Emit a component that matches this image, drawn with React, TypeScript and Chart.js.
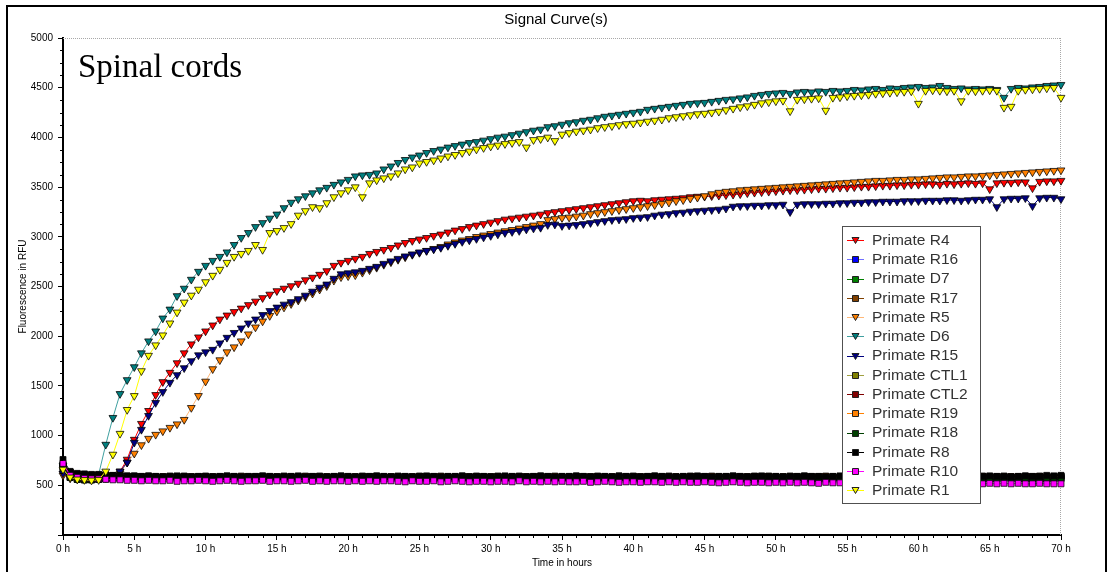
import React, { useEffect, useRef } from 'react';
import { Chart, registerables } from 'chart.js';

Chart.register(...registerables);

// ---------- DATA ----------
const hours = [
  0, 0.5, 1, 1.5, 2, 2.5, 3, 3.5, 4, 4.5,
  5, 5.5, 6, 6.5, 7, 7.5, 8, 8.5, 9, 9.5,
  10, 10.5, 11, 11.5, 12, 12.5, 13, 13.5, 14, 14.5,
  15, 15.5, 16, 16.5, 17, 17.5, 18, 18.5, 19, 19.5,
  20, 20.5, 21, 21.5, 22, 22.5, 23, 23.5, 24, 24.5,
  25, 25.5, 26, 26.5, 27, 27.5, 28, 28.5, 29, 29.5,
  30, 30.5, 31, 31.5, 32, 32.5, 33, 33.5, 34, 34.5,
  35, 35.5, 36, 36.5, 37, 37.5, 38, 38.5, 39, 39.5,
  40, 40.5, 41, 41.5, 42, 42.5, 43, 43.5, 44, 44.5,
  45, 45.5, 46, 46.5, 47, 47.5, 48, 48.5, 49, 49.5,
  50, 50.5, 51, 51.5, 52, 52.5, 53, 53.5, 54, 54.5,
  55, 55.5, 56, 56.5, 57, 57.5, 58, 58.5, 59, 59.5,
  60, 60.5, 61, 61.5, 62, 62.5, 63, 63.5, 64, 64.5,
  65, 65.5, 66, 66.5, 67, 67.5, 68, 68.5, 69, 69.5,
  70,
];

const primateR4 = [
  620, 600, 590, 590, 585, 585, 590, 600, 640, 760,
  960, 1120, 1250, 1410, 1540, 1634, 1730, 1830, 1920, 1990,
  2050, 2110, 2170, 2210, 2245, 2280, 2315, 2350, 2385, 2420,
  2455, 2480, 2505, 2530, 2565, 2590, 2620, 2656, 2710, 2740,
  2760, 2780, 2800, 2830, 2850, 2870, 2890, 2915, 2940, 2960,
  2975, 2990, 3010, 3025, 3045, 3065, 3080, 3100, 3115, 3130,
  3145, 3160, 3175, 3185, 3195, 3205, 3215, 3225, 3240, 3250,
  3260, 3270, 3280, 3290, 3300, 3310, 3320, 3330, 3340, 3350,
  3360, 3365, 3360, 3370, 3375, 3380, 3385, 3390, 3400, 3405,
  3405, 3410, 3415, 3420, 3425, 3430, 3440, 3445, 3450, 3455,
  3460, 3465, 3470, 3470, 3475, 3480, 3485, 3485, 3490, 3495,
  3495, 3500, 3505, 3505, 3510, 3515, 3515, 3520, 3520, 3525,
  3525, 3530, 3530, 3525, 3535, 3530, 3535, 3540, 3535, 3540,
  3480, 3540, 3545, 3545, 3550, 3550, 3490, 3555, 3560, 3560,
  3565,
];

const primateR5 = [
  600, 570, 565, 565, 565, 570, 575, 585, 620, 730,
  820, 905, 970, 1010, 1045, 1080, 1115, 1160, 1280, 1400,
  1545, 1670, 1760, 1840, 1890, 1950, 2020, 2090, 2150, 2205,
  2250, 2290, 2325, 2360, 2395, 2430, 2470, 2505, 2560, 2595,
  2605, 2615, 2640, 2665, 2690, 2720, 2745, 2770, 2795, 2820,
  2840, 2860, 2880, 2900, 2925, 2945, 2965, 2980, 3000, 3015,
  3030, 3045, 3058, 3070, 3085, 3100, 3115, 3130, 3170, 3180,
  3190, 3195, 3205, 3215, 3230, 3240, 3250, 3260, 3270, 3280,
  3290, 3300, 3310, 3320, 3335, 3345, 3360, 3370, 3385, 3395,
  3410, 3430, 3445, 3455, 3460, 3470, 3475, 3480, 3485, 3490,
  3495, 3500, 3505, 3510, 3515, 3520, 3525, 3530, 3535, 3540,
  3545, 3550, 3555, 3560, 3565, 3565, 3570, 3575, 3575, 3580,
  3580, 3585, 3590, 3595, 3600, 3600, 3605, 3610, 3610, 3615,
  3620, 3625, 3630, 3635, 3640, 3645, 3650, 3655, 3660, 3665,
  3670,
];

const primateD6 = [
  700, 620, 600, 590, 590, 610, 910, 1180, 1420, 1560,
  1690, 1830, 1950, 2050, 2180, 2270, 2405, 2480, 2570, 2650,
  2710, 2760, 2800, 2845, 2920, 2990, 3040, 3100, 3140, 3185,
  3226, 3290, 3345, 3380, 3410, 3440, 3470, 3495, 3525, 3550,
  3575, 3610, 3620, 3625, 3640, 3680, 3710, 3745, 3775, 3800,
  3820, 3845, 3865, 3880, 3900, 3915, 3930, 3945, 3955, 3970,
  3985, 4000, 4010, 4025, 4040, 4055, 4070, 4080, 4105, 4115,
  4130, 4145, 4155, 4170, 4180, 4195, 4210, 4220, 4230, 4240,
  4250, 4260, 4280, 4290, 4300, 4310, 4320, 4330, 4340, 4345,
  4350, 4360, 4370, 4380, 4385, 4395, 4405, 4420, 4430, 4440,
  4445, 4450, 4440, 4455, 4460, 4455, 4465, 4460, 4470, 4465,
  4470, 4480, 4475, 4485, 4490, 4480, 4495, 4490, 4500, 4505,
  4510, 4500, 4505, 4520, 4500, 4490, 4495, 4485, 4490, 4485,
  4490, 4480, 4400, 4490, 4500, 4495, 4505, 4510, 4520, 4525,
  4530,
];

const primateR15 = [
  620, 600, 590, 590, 585, 585, 590, 600, 640, 730,
  930, 1060, 1200, 1330, 1440, 1533, 1610, 1680, 1750, 1810,
  1840, 1865, 1930, 1986, 2035, 2080, 2130, 2170, 2215, 2255,
  2290, 2320, 2345, 2375, 2410, 2450, 2490, 2522, 2580, 2625,
  2635, 2645, 2660, 2680, 2700, 2730, 2755, 2780, 2805, 2825,
  2845, 2860, 2875, 2890, 2910, 2930, 2950, 2965, 2980, 2995,
  3010, 3025, 3040, 3050, 3060, 3075, 3085, 3092, 3120, 3125,
  3110, 3115, 3120, 3130, 3140, 3150, 3160, 3170, 3175, 3180,
  3190, 3195, 3200, 3215, 3225, 3230, 3240, 3245, 3255, 3260,
  3265, 3270, 3275, 3285, 3305, 3310, 3310, 3315, 3315, 3320,
  3320, 3325, 3250, 3325, 3330, 3330, 3330, 3335, 3335, 3340,
  3340, 3345, 3345, 3350, 3350, 3355, 3355, 3355, 3360, 3360,
  3360, 3365, 3365, 3365, 3370, 3370, 3365, 3370, 3375, 3375,
  3380, 3300, 3380, 3385, 3385, 3390, 3310, 3390, 3395, 3395,
  3380,
];

const primateR1 = [
  660, 580, 560, 555, 550, 555, 640, 810, 1020, 1260,
  1400, 1650, 1805, 1910, 2010, 2130, 2240, 2340, 2410, 2470,
  2545, 2610, 2670, 2740, 2800, 2830, 2860, 2920, 2870, 3040,
  3060, 3090, 3130, 3215, 3260, 3300, 3290, 3340, 3400, 3440,
  3470, 3500, 3400, 3540, 3570, 3590, 3610, 3640, 3680, 3700,
  3740, 3755, 3770, 3790, 3810, 3825, 3845, 3860, 3880, 3895,
  3910, 3920, 3935, 3945, 3955, 3900, 3975, 3985, 4000, 3965,
  4030, 4045, 4060, 4070, 4080, 4095, 4105, 4115, 4125, 4135,
  4140, 4150, 4160, 4170, 4180, 4195, 4205, 4215, 4225, 4235,
  4240, 4250, 4260, 4275, 4290, 4305, 4315, 4330, 4345, 4355,
  4365, 4370, 4265, 4380, 4385, 4390, 4395, 4270, 4400, 4405,
  4415, 4420, 4425, 4430, 4440, 4445, 4450, 4455, 4460, 4465,
  4340, 4470, 4475, 4470, 4465, 4470, 4365, 4470, 4465, 4470,
  4475, 4470, 4300, 4310, 4470, 4480, 4485, 4490, 4495, 4500,
  4400,
];

const primateR8 = [
  760, 640, 620, 615, 610, 610, 605, 600, 600, 595,
  595, 590, 595, 590, 585, 590, 595, 590, 585, 590,
  590, 585, 590, 595, 590, 585, 590, 590, 595, 590,
  585, 590, 590, 595, 585, 590, 590, 585, 590, 595,
  590, 585, 590, 590, 595, 590, 585, 590, 590, 585,
  590, 595, 590, 585, 590, 590, 595, 585, 590, 590,
  585, 590, 595, 590, 590, 585, 590, 595, 590, 585,
  590, 590, 595, 590, 585, 590, 590, 585, 595, 590,
  590, 585, 590, 595, 590, 590, 585, 590, 590, 595,
  590, 585, 590, 590, 595, 590, 585, 590, 595, 590,
  590, 585, 590, 590, 595, 590, 590, 585, 590, 595,
  590, 590, 585, 590, 595, 590, 590, 585, 590, 590,
  595, 590, 585, 590, 590, 595, 590, 590, 585, 590,
  595, 590, 590, 585, 590, 595, 590, 590, 600, 595,
  600,
];

const primateR10 = [
  720, 600, 580, 570, 565, 565, 560, 555, 555, 550,
  550, 545, 550, 545, 545, 550, 540, 545, 545, 550,
  545, 540, 545, 550, 545, 540, 545, 545, 550, 540,
  545, 545, 540, 545, 550, 540, 545, 540, 545, 545,
  540, 545, 540, 545, 540, 545, 545, 540, 535, 545,
  540, 540, 545, 535, 540, 545, 540, 535, 540, 540,
  535, 540, 540, 535, 545, 535, 540, 535, 540, 535,
  540, 535, 535, 540, 530, 535, 540, 535, 530, 535,
  535, 530, 535, 535, 530, 535, 530, 535, 530, 530,
  535, 530, 525, 530, 535, 530, 525, 530, 530, 525,
  530, 525, 530, 525, 530, 525, 520, 530, 525, 525,
  520, 525, 530, 520, 525, 520, 525, 520, 525, 520,
  520, 525, 515, 520, 525, 520, 515, 520, 520, 515,
  520, 515, 520, 515, 520, 515, 515, 520, 515, 515,
  515,
];

// flat controls hidden under the black/magenta band
const baselineUpper = [
  700, 630, 610, 605, 600, 600, 600, 595, 595, 590,
  590, 585, 590, 585, 585, 590, 585, 590, 585, 585,
  590, 585, 585, 590, 585, 590, 585, 585, 590, 585,
  585, 590, 585, 585, 590, 585, 590, 585, 585, 590,
  585, 585, 590, 585, 590, 585, 585, 590, 585, 585,
  590, 585, 585, 590, 585, 585, 590, 585, 590, 585,
  585, 590, 585, 585, 590, 585, 585, 590, 585, 590,
  585, 585, 590, 585, 585, 590, 585, 585, 590, 585,
  590, 585, 585, 590, 585, 590, 585, 585, 590, 585,
  585, 590, 585, 585, 590, 585, 585, 590, 585, 590,
  585, 585, 590, 585, 590, 585, 585, 590, 585, 585,
  590, 585, 585, 590, 585, 585, 590, 585, 590, 585,
  585, 590, 585, 585, 590, 585, 590, 585, 585, 590,
  585, 585, 590, 585, 585, 590, 585, 590, 585, 585,
  590,
];

const baselineLower = [
  680, 580, 560, 555, 555, 560, 565, 570, 570, 570,
  575, 570, 570, 575, 570, 570, 575, 570, 565, 570,
  570, 575, 570, 565, 570, 575, 570, 570, 565, 570,
  575, 570, 565, 570, 570, 575, 570, 565, 570, 570,
  570, 565, 570, 575, 570, 565, 570, 570, 575, 570,
  565, 570, 570, 575, 565, 570, 570, 565, 570, 575,
  570, 565, 570, 570, 565, 575, 570, 565, 570, 570,
  565, 570, 575, 570, 565, 570, 570, 565, 570, 575,
  570, 565, 570, 570, 575, 565, 570, 570, 565, 570,
  575, 570, 565, 570, 570, 565, 575, 570, 565, 570,
  570, 565, 570, 575, 570, 565, 570, 570, 565, 575,
  570, 565, 570, 570, 575, 565, 570, 565, 570, 570,
  575, 570, 565, 570, 570, 565, 575, 570, 565, 570,
  570, 565, 575, 570, 565, 570, 570, 575, 565, 570,
  570,
];

const seriesNames = [
  'Primate R4', 'Primate R16', 'Primate D7', 'Primate R17', 'Primate R5',
  'Primate D6', 'Primate R15', 'Primate CTL1', 'Primate CTL2', 'Primate R19',
  'Primate R18', 'Primate R8', 'Primate R10', 'Primate R1',
];

const seriesValues = [
  primateR4, baselineUpper, baselineLower, baselineUpper, primateR5,
  primateD6, primateR15, baselineLower, baselineUpper, baselineUpper,
  baselineLower, primateR8, primateR10, primateR1,
];

// ---------- STYLES ----------
const lineColors = [
  '#FF0000', '#7070FF', '#008000', '#804000', '#FFB878',
  '#40A0A0', '#000080', '#A0A040', '#800000', '#FF8000',
  '#004000', '#000000', '#FF00FF', '#FFFF00',
];
const markerColors = [
  '#FF0000', '#0000FF', '#008000', '#804000', '#FF8000',
  '#008080', '#000080', '#808000', '#800000', '#FF8000',
  '#004000', '#000000', '#FF00FF', '#FFFF00',
];
const markerShapes = [
  'tri', 'sq', 'sq', 'sq', 'tri',
  'tri', 'tri', 'sq', 'sq', 'sq',
  'sq', 'sq', 'sq', 'tri',
];

const SANS = '"Liberation Sans", Arial, sans-serif';

const decorPlugin = {
  id: 'decor',
  beforeDatasetsDraw(chart: any) {
    const { ctx, chartArea } = chart;
    const { left, right, top, bottom } = chartArea;
    ctx.save();
    ctx.strokeStyle = '#a8a8a8';
    ctx.lineWidth = 1;
    ctx.setLineDash([1, 1]);
    ctx.beginPath();
    ctx.moveTo(left, top + 0.5);
    ctx.lineTo(right, top + 0.5);
    ctx.moveTo(right - 0.5, top);
    ctx.lineTo(right - 0.5, bottom);
    ctx.stroke();
    ctx.restore();
  },
  afterDraw(chart: any) {
    const { ctx, chartArea, scales } = chart;
    const { left, bottom } = chartArea;
    ctx.save();
    // chart title, centred on the full picture
    ctx.fillStyle = '#000';
    ctx.font = '15px ' + SANS;
    ctx.textAlign = 'center';
    ctx.textBaseline = 'middle';
    ctx.fillText('Signal Curve(s)', 556, 20);

    // minor ticks
    ctx.strokeStyle = '#000';
    ctx.lineWidth = 1;
    ctx.beginPath();
    for (let h = 0; h <= 70; h += 1) {
      if (h % 5 === 0) continue;
      const px = Math.round(scales.x.getPixelForValue(h)) + 0.5;
      ctx.moveTo(px, bottom);
      ctx.lineTo(px, bottom + 3);
    }
    for (let v = 0; v <= 5000; v += 125) {
      if (v % 500 === 0) continue;
      const py = Math.round(scales.y.getPixelForValue(v)) + 0.5;
      ctx.moveTo(left - 3, py);
      ctx.lineTo(left, py);
    }
    ctx.stroke();

    // "Spinal cords" annotation
    ctx.fillStyle = '#000';
    ctx.font = '33px "Liberation Serif", "Times New Roman", serif';
    ctx.textBaseline = 'alphabetic';
    ctx.textAlign = 'left';
    ctx.fillText('Spinal cords', 78, 77);

    // legend box
    const bx = 842, by = 226, bw = 138, bh = 277;
    ctx.fillStyle = '#fff';
    ctx.fillRect(bx, by, bw, bh);
    ctx.strokeStyle = '#505050';
    ctx.strokeRect(bx + 0.5, by + 0.5, bw, bh);
    const ds = chart.data.datasets;
    ctx.font = '15.5px ' + SANS;
    ctx.textBaseline = 'middle';
    for (let i = 0; i < ds.length; i++) {
      const y = 240 + i * 19.25;
      ctx.strokeStyle = lineColors[i];
      ctx.lineWidth = 1;
      ctx.beginPath();
      ctx.moveTo(847, Math.round(y) + 0.5);
      ctx.lineTo(864, Math.round(y) + 0.5);
      ctx.stroke();
      const mx = 855.5, my = Math.round(y) + 0.5;
      ctx.fillStyle = markerColors[i];
      ctx.strokeStyle = '#202020';
      ctx.beginPath();
      if (markerShapes[i] === 'tri') {
        ctx.moveTo(mx - 3.5, my - 3);
        ctx.lineTo(mx + 3.5, my - 3);
        ctx.lineTo(mx, my + 3);
        ctx.closePath();
      } else {
        ctx.rect(mx - 3, my - 3, 6, 6);
      }
      ctx.fill();
      ctx.stroke();
      ctx.fillStyle = '#333';
      ctx.fillText(seriesNames[i], 872, y + 0.5);
    }
    ctx.restore();
  },
};

export default function App() {
  const canvasRef = useRef<HTMLCanvasElement | null>(null);

  useEffect(() => {
    document.body.style.margin = '0';
    const canvas = canvasRef.current;
    if (!canvas) return;
    const n = seriesNames.length;
    const datasets = seriesNames.map((name, i) => ({
      label: name,
      data: hours.map((h, k) => ({ x: h, y: seriesValues[i][k] })),
      borderColor: lineColors[i],
      backgroundColor: markerColors[i],
      borderWidth: 1,
      pointStyle: markerShapes[i] === 'tri' ? 'triangle' : 'rect',
      pointRotation: markerShapes[i] === 'tri' ? 180 : 0,
      pointRadius: markerShapes[i] === 'tri' ? 4.5 : 4.2,
      pointBackgroundColor: markerColors[i],
      pointBorderColor: 'rgba(0,0,0,0.85)',
      pointBorderWidth: 0.9,
      tension: 0,
      fill: false,
      clip: 8,
      order: n - i,
    }));

    const chart = new Chart(canvas, {
      type: 'line',
      data: { datasets },
      options: {
        responsive: false,
        animation: false,
        devicePixelRatio: 1,
        events: [],
        layout: { padding: { left: 0, right: 52, top: 38, bottom: 0 } },
        plugins: {
          legend: { display: false },
          tooltip: { enabled: false },
          title: { display: false },
        },
        scales: {
          x: {
            type: 'linear',
            min: 0,
            max: 70,
            afterFit: (s: any) => { s.height = 37; },
            ticks: {
              stepSize: 5,
              autoSkip: false,
              maxRotation: 0,
              padding: 3,
              color: '#000',
              font: { family: SANS, size: 10 },
              callback: (v: any) => v + ' h',
            },
            grid: {
              display: true,
              drawOnChartArea: false,
              drawTicks: true,
              tickLength: 5,
              tickColor: '#000',
              tickWidth: 1,
            },
            border: { display: true, color: '#000', width: 2 },
            title: {
              display: true,
              text: 'Time in hours',
              color: '#000',
              font: { family: SANS, size: 10 },
              padding: { top: 0, bottom: 3 },
            },
          },
          y: {
            type: 'linear',
            min: 0,
            max: 5000,
            afterFit: (s: any) => { s.width = 63; },
            ticks: {
              stepSize: 500,
              autoSkip: false,
              padding: 5,
              color: '#000',
              font: { family: SANS, size: 10 },
              callback: (v: any) => (v === 0 ? '' : String(v)),
            },
            grid: {
              display: true,
              drawOnChartArea: false,
              drawTicks: true,
              tickLength: 5,
              tickColor: '#000',
              tickWidth: 1,
            },
            border: { display: true, color: '#000', width: 2 },
            title: {
              display: true,
              text: 'Fluorescence in RFU',
              color: '#000',
              font: { family: SANS, size: 10 },
              padding: { top: 17, bottom: 0 },
            },
          },
        },
      } as any,
      plugins: [decorPlugin],
    });
    return () => chart.destroy();
  }, []);

  return (
    <div style={{ position: 'relative', width: 1113, height: 572, overflow: 'hidden', background: '#fff' }}>
      <canvas ref={canvasRef} width={1113} height={572} style={{ display: 'block' }} />
      <div
        style={{
          position: 'absolute',
          left: 6,
          top: 5,
          width: 1097,
          height: 700,
          borderLeft: '2px solid #000',
          borderTop: '2px solid #000',
          borderRight: '2px solid #000',
          pointerEvents: 'none',
        }}
      />
    </div>
  );
}
